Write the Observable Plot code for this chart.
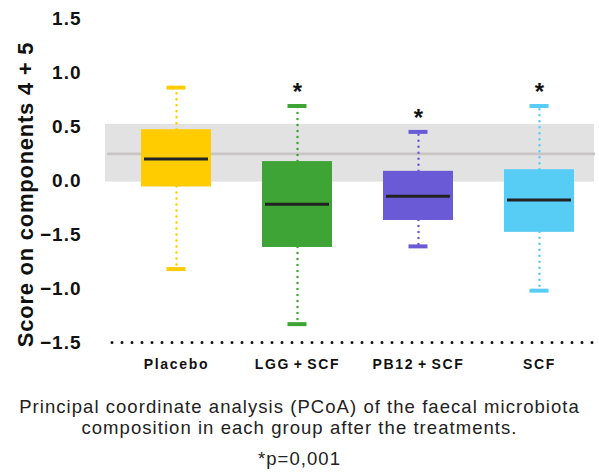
<!DOCTYPE html>
<html>
<head>
<meta charset="utf-8">
<script src="https://cdn.jsdelivr.net/npm/d3@7"></script>
<script src="https://cdn.jsdelivr.net/npm/@observablehq/plot@0.6"></script>
<style>
  html, body { margin: 0; padding: 0; background: #fff; }
  #chart svg { display: block; }
  #chart g[aria-label="x-axis tick label"] text { letter-spacing: 1.7px; word-spacing: -2px; }
  #chart g[aria-label="y-axis tick label"] text { letter-spacing: 1px; }
  #chart .ylabel text { letter-spacing: 0.75px; }
  .cap { width: 599px; text-align: center; font-family: "Liberation Sans", Arial, sans-serif; color: #222; font-size: 18.5px; line-height: 21px; letter-spacing: 1.05px; }
  .cap1 { margin-top: 16px; }
  .cap2 { margin-top: 10px; }
</style>
</head>
<body>
<div id="chart"></div>
<div class="cap cap1">Principal coordinate analysis (PCoA) of the faecal microbiota<br>composition in each group after the treatments.</div>
<div class="cap cap2">*p=0,001</div>
<script>
const groups = ["Placebo", "LGG + SCF", "PB12 + SCF", "SCF"];
const whiskerLow = [-0.82, -1.33, -0.61, -1.02];
const q1 = [-0.06, -0.62, -0.37, -0.48];
const median = [0.20, -0.22, -0.145, -0.18];
const q3 = [0.47, 0.175, 0.085, 0.10];
const whiskerHigh = [0.86, 0.69, 0.45, 0.69];
const significance = ["", "*", "*", "*"];
const colors = ["#FFCC00", "#3EA435", "#6A5AD5", "#57CDF5"];
const yTicks = [1.5, 1.0, 0.5, 0.0, -0.5, -1.0, -1.5];
const yTickLabels = ["1.5", "1.0", "0.5", "0.0", "\u22121.5", "\u22121.0", "\u22121.5"];
const yLabel = "Score on components 4 + 5";
const bandLow = -0.015;
const bandHigh = 0.52;
const refLine = 0.247;
const baseline = -1.5;

const data = groups.map((g, i) => ({
  group: g, lo: whiskerLow[i], q1: q1[i], med: median[i], q3: q3[i], hi: whiskerHigh[i],
  sig: significance[i], color: colors[i]
}));

const chart = Plot.plot({
  width: 599,
  height: 380,
  marginTop: 18,
  marginBottom: 38,
  marginLeft: 115,
  marginRight: 0,
  style: { fontFamily: "Liberation Sans, Arial, sans-serif", color: "#111" },
  x: { domain: groups, paddingInner: 0.425, paddingOuter: 0.2 },
  y: { domain: [-1.5, 1.5] },
  color: { type: "identity" },
  marks: [
    Plot.rect([0], { y1: [bandLow], y2: [bandHigh], fill: "#e2e2e2", insetLeft: -10, insetRight: 5 }),
    Plot.ruleY([refLine], { stroke: "#c9c5c5", strokeWidth: 2.7, insetLeft: -8, insetRight: 4 }),
    Plot.ruleY([baseline], { stroke: "#111", strokeWidth: 3, strokeDasharray: "0 10", strokeLinecap: "round", insetLeft: -3, insetRight: 4 }),
    Plot.ruleX(data, { x: "group", y1: "q3", y2: "hi", stroke: "color", strokeWidth: 2.5, strokeDasharray: "0 6", strokeLinecap: "round" }),
    Plot.ruleX(data, { x: "group", y1: "q1", y2: "lo", stroke: "color", strokeWidth: 2.5, strokeDasharray: "0 6", strokeLinecap: "round" }),
    Plot.tickY(data, { x: "group", y: "hi", stroke: "color", strokeWidth: 4, inset: 25.5 }),
    Plot.tickY(data, { x: "group", y: "lo", stroke: "color", strokeWidth: 4, inset: 25.5 }),
    Plot.barY(data, { x: "group", y1: "q1", y2: "q3", fill: "color" }),
    Plot.tickY(data, { x: "group", y: "med", stroke: "#222", strokeWidth: 3, inset: 3 }),
    Plot.text(data.filter(d => d.sig), { x: "group", y: "hi", text: "sig", fontSize: 24, fontWeight: "bold", dy: -14, fill: "#111" }),
    Plot.axisY({ ticks: yTicks, tickFormat: (d) => yTickLabels[yTicks.indexOf(d)], tickSize: 0, tickPadding: 34, fontSize: 19, fontWeight: "bold", label: null }),
    Plot.text([yLabel], { frameAnchor: "left", text: d => d, rotate: -90, textAnchor: "middle", dx: -90, dy: 14, fontSize: 22, fontWeight: "bold", fill: "#111", className: "ylabel" }),
    Plot.axisX({ tickSize: 0, tickPadding: 17, fontSize: 14, fontWeight: "bold", label: null })
  ]
});
document.getElementById("chart").appendChild(chart);
</script>
</body>
</html>
